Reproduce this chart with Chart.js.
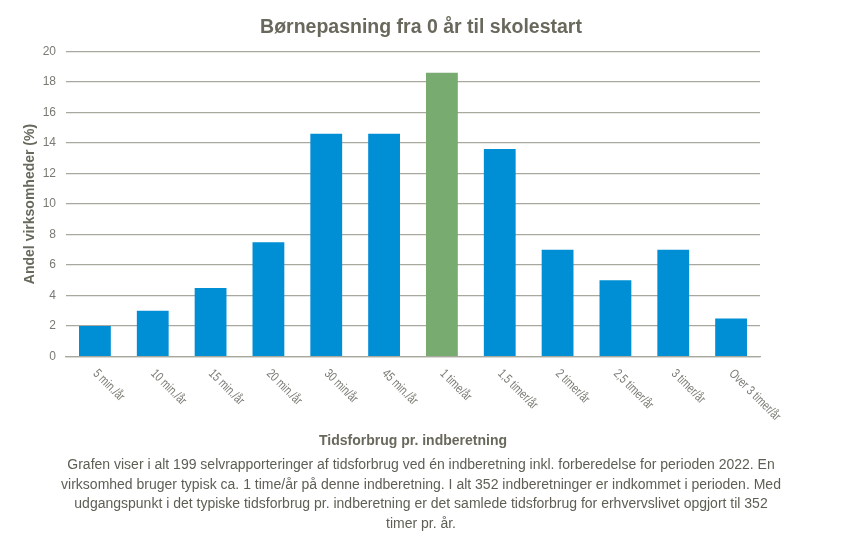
<!DOCTYPE html>
<html>
<head>
<meta charset="utf-8">
<script src="https://cdn.jsdelivr.net/npm/chart.js@4.4.1/dist/chart.umd.min.js"></script>
<style>
  html, body { margin: 0; padding: 0; background: #fff; }
  #wrap { width: 842px; height: 558px; }
</style>
</head>
<body>
<div id="wrap"><canvas id="myChart" width="842" height="558"></canvas></div>
<script>
"use strict";
// DATA
const categories = ["5 min./år", "10 min./år", "15 min./år", "20 min./år", "30 min/år", "45 min./år",
  "1 time/år", "1,5 timer/år", "2 timer/år", "2,5 timer/år", "3 timer/år", "Over 3 timer/år"];
const shares = [2.0, 3.0, 4.5, 7.5, 14.6, 14.6, 18.6, 13.6, 7.0, 5.0, 7.0, 2.5];
const typicalIndex = 6; // the typical time use, drawn green
const yTicks = [0, 2, 4, 6, 8, 10, 12, 14, 16, 18, 20];
const chartTitle = "Børnepasning fra 0 år til skolestart";
const yTitle = "Andel virksomheder (%)";
const xTitle = "Tidsforbrug pr. indberetning";
const captionLines = [
  "Grafen viser i alt 199 selvrapporteringer af tidsforbrug ved én indberetning inkl. forberedelse for perioden 2022. En",
  "virksomhed bruger typisk ca. 1 time/år på denne indberetning. I alt 352 indberetninger er indkommet i perioden. Med",
  "udgangspunkt i det typiske tidsforbrug pr. indberetning er det samlede tidsforbrug for erhvervslivet opgjort til 352",
  "timer pr. år.",
];

const FONT = "'Liberation Sans', Arial, sans-serif";
const BLUE = "#008fd5";
const GREEN = "#78ab70";
const TEXT = "#68685c";
const TICK = "#7a7a74";
const GRID = "#a8a89f";

const barColors = shares.map((v, i) => (i === typicalIndex ? GREEN : BLUE));

// x tick labels slant down to the right (chart.js only slants the other way),
// squeezed a bit to look like the narrow font of the original
const slantedLabels = {
  id: "slantedLabels",
  afterDraw(chart) {
    const { ctx } = chart;
    const xs = chart.scales.x;
    ctx.save();
    ctx.font = "13px " + FONT;
    ctx.fillStyle = TICK;
    ctx.textAlign = "left";
    ctx.textBaseline = "middle";
    categories.forEach((lbl, i) => {
      const x = xs.getPixelForTick(i);
      ctx.save();
      ctx.translate(x, xs.top + 15);
      ctx.rotate(Math.PI / 4);
      ctx.scale(0.77, 1);
      ctx.fillText(lbl, 0, 0);
      ctx.restore();
    });
    ctx.restore();
  },
};

const data = {
  labels: categories,
  datasets: [
    {
      label: yTitle,
      data: shares,
      backgroundColor: barColors,
      borderWidth: 0,
      categoryPercentage: 1,
      barPercentage: 0.55,
    },
  ],
};

const config = {
  type: "bar",
  data: data,
  options: {
    responsive: false,
    animation: false,
    layout: { padding: 0 },
    plugins: {
      legend: { display: false },
      tooltip: { enabled: false },
      title: {
        display: true,
        text: chartTitle,
        color: TEXT,
        font: { family: FONT, size: 19.5, weight: "bold" },
        padding: { top: 16, bottom: 12 },
      },
      subtitle: {
        display: true,
        position: "bottom",
        text: captionLines,
        color: "#5e5e55",
        font: { family: FONT, size: 14, lineHeight: 1.4 },
        padding: { top: 2, bottom: 24 },
      },
    },
    scales: {
      x: {
        grid: { display: false, drawTicks: false },
        border: { color: GRID, width: 1.3 },
        ticks: { display: false },
        title: {
          display: true,
          text: xTitle,
          color: TEXT,
          font: { family: FONT, size: 14, weight: "bold" },
          padding: { top: 0, bottom: 4 },
        },
        afterFit(scale) {
          scale.height = 97;
        },
      },
      y: {
        min: 0,
        max: 20,
        afterBuildTicks(scale) {
          scale.ticks = yTicks.map((v) => ({ value: v }));
        },
        grid: { color: GRID, lineWidth: 1.3, drawTicks: false },
        border: { display: false },
        ticks: {
          color: TICK,
          font: { family: FONT, size: 12 },
          padding: 10,
        },
        title: {
          display: true,
          text: yTitle,
          color: TEXT,
          font: { family: FONT, size: 14, weight: "bold" },
          padding: { top: 22, bottom: 0 },
        },
        afterFit(scale) {
          scale.width = 66;
        },
      },
      // empty right margin so the titles centre on the whole page
      yRight: {
        position: "right",
        display: true,
        grid: { display: false },
        border: { display: false },
        ticks: { display: false },
        afterFit(scale) {
          scale.width = 82;
        },
      },
    },
  },
  plugins: [slantedLabels],
};

const myChart = new Chart(document.getElementById("myChart"), config);
</script>
</body>
</html>
